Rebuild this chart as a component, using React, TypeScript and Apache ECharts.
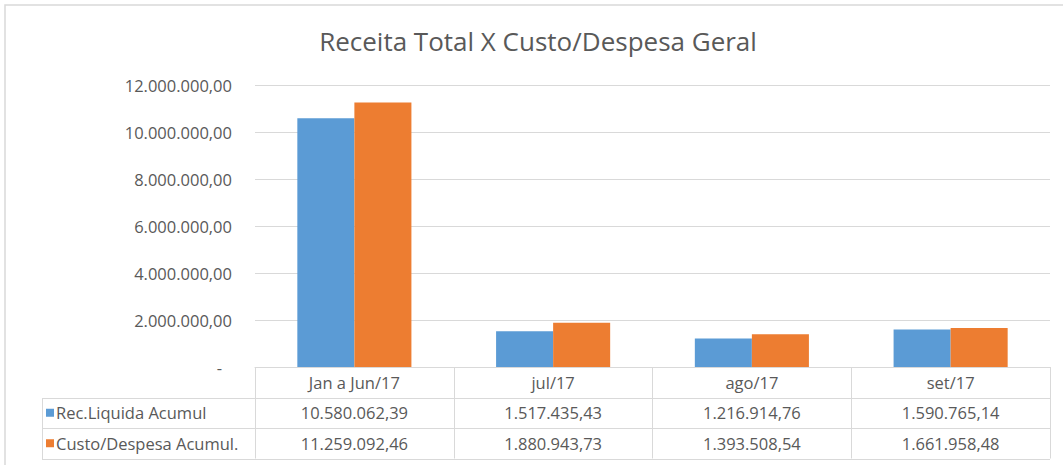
import React, { useEffect, useRef } from "react";
import * as echarts from "echarts";

const title = "Receita Total X Custo/Despesa Geral";
const categories = ["Jan a Jun/17", "jul/17", "ago/17", "set/17"];
const seriesNames = ["Rec.Liquida Acumul", "Custo/Despesa Acumul."];
const receita = [10580062.39, 1517435.43, 1216914.76, 1590765.14];
const custo = [11259092.46, 1880943.73, 1393508.54, 1661958.48];
const colors = ["#5B9BD5", "#ED7D31"];
const yTicks = { min: 0, max: 12000000, interval: 2000000 };

const W = 1063;
const H = 465;
const GRID_LEFT = 255;
const GRID_RIGHT_X = 1050;
const GRID_TOP = 85;
const AXIS_Y = 367;
const ROW_H = 30.5;
const TABLE_LEFT = 42;
const LINE = "#D9D9D9";
const TEXT = "#595959";
const FONT = "'Open Sans', sans-serif";
const FS = 16.5;

function fmt(v: number): string {
  const neg = v < 0;
  const fixed = Math.abs(v).toFixed(2);
  const [ip, dp] = fixed.split(".");
  const withDots = ip.replace(/\B(?=(\d{3})+(?!\d))/g, ".");
  return (neg ? "-" : "") + withDots + "," + dp;
}

export default function App() {
  const ref = useRef<HTMLDivElement>(null);
  useEffect(() => {
    if (!ref.current) return;
    const chart = echarts.init(ref.current, undefined, { renderer: "svg" });
    const rows = [receita, custo];
    const graphics: any[] = [
      {
        type: "rect",
        shape: { x: 5, y: 5, width: W + 20, height: H + 20 },
        style: { fill: "none", stroke: LINE, lineWidth: 1.5 },
        silent: true,
      },
      {
        type: "text",
        x: 538,
        y: 41,
        style: {
          text: title,
          fill: TEXT,
          font: `26px ${FONT}`,
          textAlign: "center",
          textVerticalAlign: "middle",
        },
      },
    ];
    for (let i = 1; i <= 3; i++) {
      const y = Math.round(AXIS_Y + ROW_H * i) + 0.5;
      graphics.push({
        type: "line",
        shape: { x1: TABLE_LEFT, y1: y, x2: GRID_RIGHT_X, y2: y },
        style: { stroke: LINE, lineWidth: 1 },
        silent: true,
      });
    }
    graphics.push({
      type: "line",
      shape: {
        x1: TABLE_LEFT + 0.5,
        y1: Math.round(AXIS_Y + ROW_H) + 0.5,
        x2: TABLE_LEFT + 0.5,
        y2: Math.round(AXIS_Y + ROW_H * 3) + 0.5,
      },
      style: { stroke: LINE, lineWidth: 1 },
      silent: true,
    });
    seriesNames.forEach((name, i) => {
      const cy = AXIS_Y + ROW_H * (i + 1.5);
      graphics.push({
        type: "rect",
        shape: { x: TABLE_LEFT + 4, y: cy - 4, width: 8, height: 8 },
        style: { fill: colors[i] },
        silent: true,
      });
      graphics.push({
        type: "text",
        x: TABLE_LEFT + 14,
        y: cy,
        style: {
          text: name,
          fill: TEXT,
          font: `${FS}px ${FONT}`,
          textVerticalAlign: "middle",
        },
      });
    });

    chart.setOption({
      animation: false,
      grid: {
        left: GRID_LEFT,
        right: W - GRID_RIGHT_X,
        top: GRID_TOP,
        bottom: H - AXIS_Y,
        containLabel: false,
      },
      xAxis: {
        type: "category",
        data: categories,
        axisLine: { show: true, lineStyle: { color: LINE } },
        axisTick: {
          show: true,
          length: ROW_H * 3,
          interval: 0,
          lineStyle: { color: LINE },
        },
        axisLabel: {
          interval: 0,
          margin: 0,
          formatter: (val: string, idx: number) =>
            `{h|${val}}\n{v|${fmt(rows[0][idx])}}\n{v|${fmt(rows[1][idx])}}`,
          rich: {
            h: { fontSize: FS, fontFamily: FONT, color: TEXT, lineHeight: ROW_H },
            v: { fontSize: FS, fontFamily: FONT, color: TEXT, lineHeight: ROW_H },
          },
        },
      },
      yAxis: {
        type: "value",
        min: yTicks.min,
        max: yTicks.max,
        interval: yTicks.interval,
        axisLine: { show: false },
        axisTick: { show: false },
        splitLine: { lineStyle: { color: LINE } },
        axisLabel: {
          margin: 23,
          color: TEXT,
          fontSize: FS,
          fontFamily: FONT,
          formatter: (v: number) => (v === 0 ? "{d|-}" : fmt(v)),
          rich: {
            d: { padding: [0, 10, 0, 0], color: TEXT, fontSize: FS, fontFamily: FONT },
          },
        },
      },
      series: [
        {
          name: seriesNames[0],
          type: "bar",
          data: receita,
          itemStyle: { color: colors[0] },
          barGap: "0%",
          barCategoryGap: "42.6%",
        },
        {
          name: seriesNames[1],
          type: "bar",
          data: custo,
          itemStyle: { color: colors[1] },
          barGap: "0%",
          barCategoryGap: "42.6%",
        },
      ],
      graphic: graphics,
    });
    return () => chart.dispose();
  }, []);
  return (
    <div
      ref={ref}
      style={{ position: "fixed", left: 0, top: 0, width: W, height: H, background: "#fff" }}
    />
  );
}
